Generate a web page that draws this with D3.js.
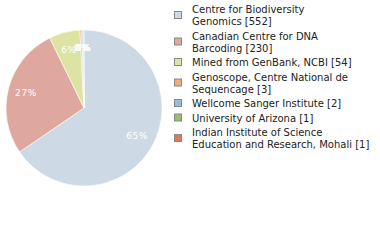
<!DOCTYPE html>
<html lang="en">
<head>
<meta charset="UTF-8">
<title>Pie chart</title>
<script src="https://d3js.org/d3.v7.min.js"></script>
<style>
    body { margin: 0; padding: 0; background: #fff; }
    svg { display: block; font-family: "DejaVu Sans", sans-serif; }
    .slice-label { fill: #fff; font-size: 9px; text-anchor: middle; letter-spacing: 0.6px; }
    .legend-text { fill: #222; font-size: 10px; }
</style>
</head>
<body>
<svg id="chart" width="380" height="240"></svg>
<script>
    // data
    const names = [
        ['Centre for Biodiversity', 'Genomics [552]'],
        ['Canadian Centre for DNA', 'Barcoding [230]'],
        ['Mined from GenBank, NCBI [54]'],
        ['Genoscope, Centre National de', 'Sequencage [3]'],
        ['Wellcome Sanger Institute [2]'],
        ['University of Arizona [1]'],
        ['Indian Institute of Science', 'Education and Research, Mohali [1]']
    ];
    const counts = [552, 230, 54, 3, 2, 1, 1];
    const colors = ['#cddae6', '#dfa89f', '#dde3a3', '#f0ac74', '#9ab9dc', '#96c06e', '#e07756'];

    const cx = 84, cy = 108, radius = 78;
    const total = d3.sum(counts);
    const svg = d3.select('#chart');

    const pie = d3.pie().sort(null).value(d => d);
    const arcs = pie(counts);
    const arc = d3.arc().innerRadius(0).outerRadius(radius);
    const labelArc = d3.arc().innerRadius(60).outerRadius(60);

    const g = svg.append('g').attr('transform', `translate(${cx},${cy})`);

    g.selectAll('path')
        .data(arcs)
        .enter()
        .append('path')
        .attr('d', arc)
        .attr('fill', (d, i) => colors[i])
        .attr('stroke', '#fff')
        .attr('stroke-width', 0.6);

    g.selectAll('.slice-label')
        .data(arcs)
        .enter()
        .append('text')
        .attr('class', 'slice-label')
        .attr('x', d => labelArc.centroid(d)[0])
        .attr('y', d => labelArc.centroid(d)[1] + 3)
        .text(d => Math.round(d.value / total * 100) + '%');

    // legend
    const legend = svg.append('g');
    let y = 13;
    names.forEach((lines, i) => {
        const blockMid = y - 4 + (lines.length - 1) * 6;
        legend.append('rect')
            .attr('x', 174.5)
            .attr('y', blockMid - 3.5)
            .attr('width', 7)
            .attr('height', 7)
            .attr('fill', colors[i])
            .attr('stroke', '#888')
            .attr('stroke-width', 1);
        lines.forEach((t, j) => {
            legend.append('text')
                .attr('class', 'legend-text')
                .attr('x', 192)
                .attr('y', y + j * 12)
                .text(t);
        });
        y += lines.length * 12 + 2.5;
    });
</script>
</body>
</html>
